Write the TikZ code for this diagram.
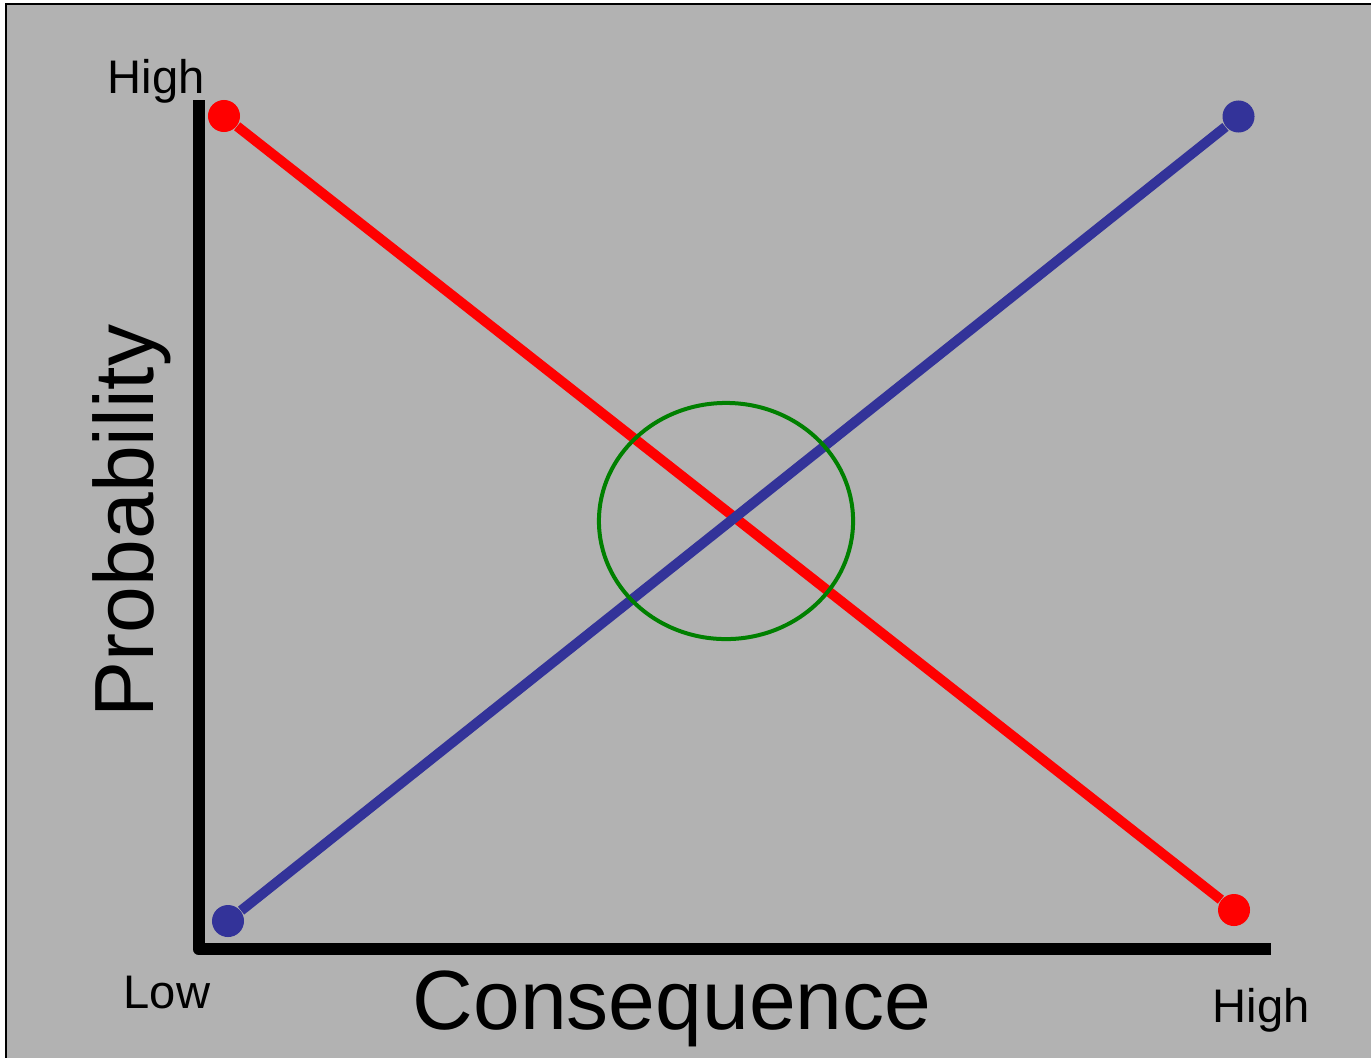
\documentclass[tikz,border=0pt]{standalone}
\usepackage{fontspec}
\setmainfont{Liberation Sans}
\usetikzlibrary{shapes.geometric, positioning}
\definecolor{panelgray}{RGB}{178,178,178}
\definecolor{lineblue}{RGB}{51,51,153}
\definecolor{ringgreen}{RGB}{0,128,0}
\tikzstyle{reddot} = [circle, fill=red, inner sep=0pt, minimum size=0.32cm]
\tikzstyle{bluedot} = [circle, fill=lineblue, inner sep=0pt, minimum size=0.32cm]
\tikzstyle{trend} = [line width=0.1cm]
\tikzstyle{axis} = [line width=0.12cm, line join=round]
\tikzstyle{endlabel} = [font=\fontsize{13.4}{16}\selectfont, anchor=base west, inner sep=0pt]
\tikzstyle{axislabel} = [font=\fontsize{23.9}{28}\selectfont, anchor=base, inner sep=0pt]

\begin{document}
\begin{tikzpicture}[x=0.01cm, y=-0.01cm]

\useasboundingbox (0,0) rectangle (1371,1057);
\fill[white] (0,0) rectangle (1371,1057);
\fill[panelgray] (6,4) rectangle (1380,1070);
\draw[line width=0.02cm] (1380,4) -- (6,4) -- (6,1070);

% axes
\coordinate (ytop) at (198.5,100);
\coordinate (xend) at (1271,949);
\draw[axis] (ytop) |- (xend);

% end labels
\node (highy) [endlabel] at (107,93) {High};
\node (lowx) [endlabel] at (123,1008) {Low};
\node (highx) [endlabel] at (1212,1022) {High};
\node (prob) [axislabel, rotate=90] at (153,521) {Probability};
\node (cons) [axislabel] at (672,1029) {Consequence};

% risk lines
\node (r1) [reddot] at (224,116) {};
\node (r2) [reddot] at (1234,910) {};
\node (b1) [bluedot] at (228,921) {};
\node (b2) [bluedot] at (1238.5,116.5) {};
\draw[trend, red] (r1) -- (r2);
\draw[trend, lineblue] (b1) -- (b2);

\node (ring) [ellipse, draw=ringgreen, line width=0.04cm, minimum width=2.54cm, minimum height=2.36cm, inner sep=0pt] at (726,521) {};

\end{tikzpicture}
\end{document}
